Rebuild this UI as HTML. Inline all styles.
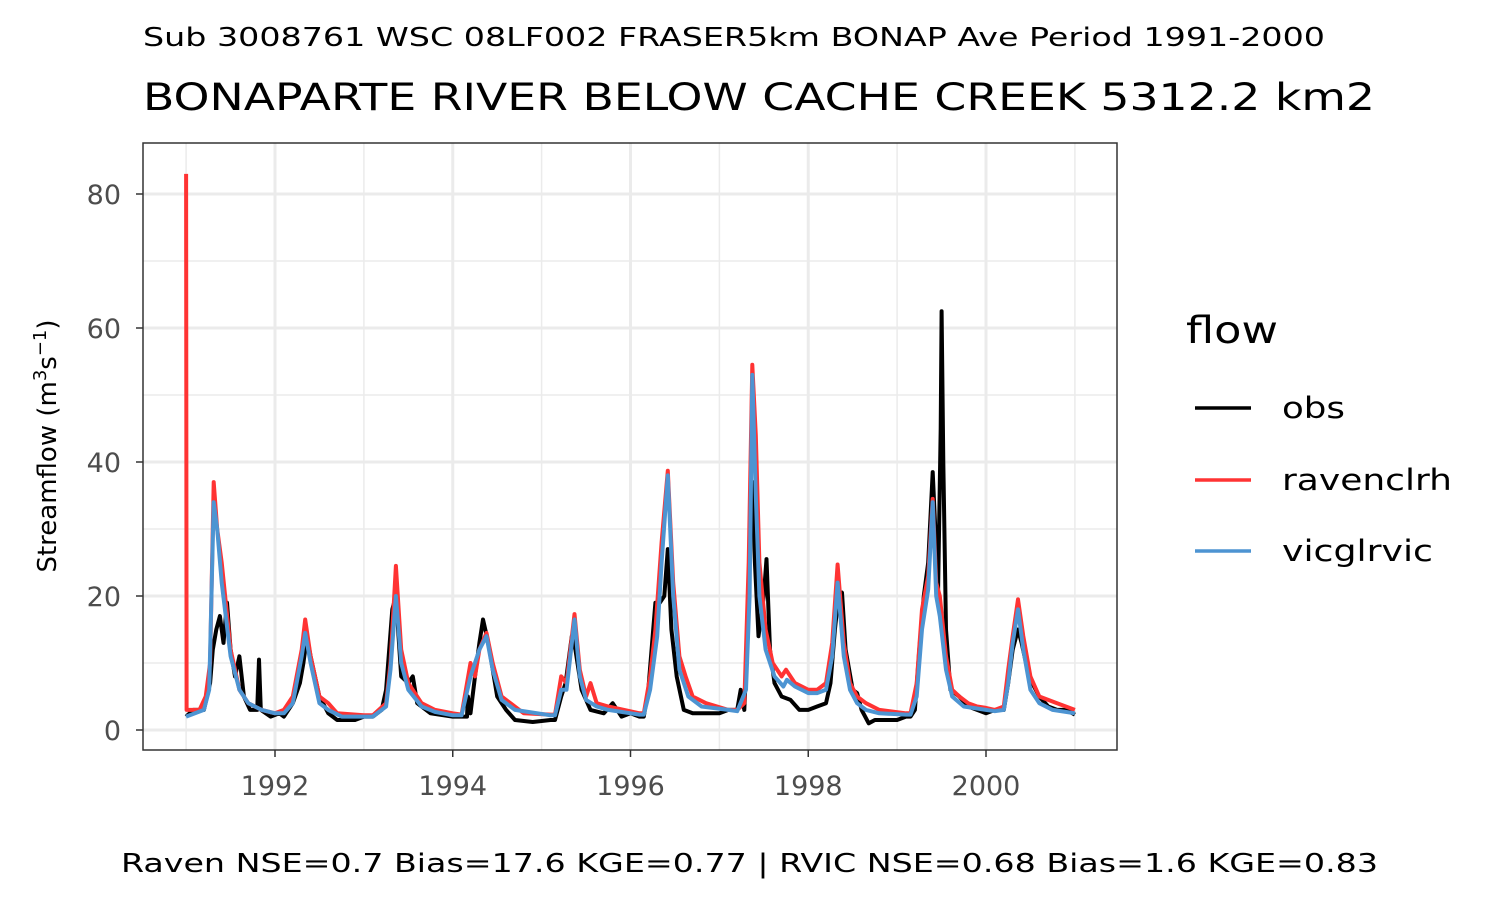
<!DOCTYPE html>
<html><head><meta charset="utf-8"><style>
body{margin:0;background:#fff;}
svg{display:block;font-family:"DejaVu Sans","Liberation Sans",sans-serif;}
</style></head><body>
<svg id="chart" width="1500" height="900" viewBox="0 0 1500 900" xmlns="http://www.w3.org/2000/svg">
<rect x="0" y="0" width="1500" height="900" fill="#fff"/>
<text x="143" y="46" font-size="26" textLength="1182" lengthAdjust="spacingAndGlyphs" fill="#000">Sub 3008761 WSC 08LF002 FRASER5km BONAP Ave Period 1991-2000</text>
<text x="143" y="110" font-size="37" textLength="1232" lengthAdjust="spacingAndGlyphs" fill="#000">BONAPARTE RIVER BELOW CACHE CREEK 5312.2 km2</text>
<g id="grid"></g>
<g id="series"></g>
<rect x="143" y="143" width="974" height="607" fill="none" stroke="#333" stroke-width="1.5"/>
<g id="axes"></g>
<text transform="translate(56,446) rotate(-90)" text-anchor="middle" font-size="26" fill="#000">Streamflow (m<tspan dy="-10" font-size="18">3</tspan><tspan dy="10">s</tspan><tspan dy="-10" font-size="18">−1</tspan><tspan dy="10">)</tspan></text>
<g>
<text x="1186" y="343" font-size="37" textLength="92" lengthAdjust="spacingAndGlyphs" fill="#000">flow</text>
<g><line x1="1195" y1="408" x2="1251" y2="408" stroke="#000" stroke-width="3.5"/><text x="1282" y="418" font-size="29" textLength="63" lengthAdjust="spacingAndGlyphs" fill="#000">obs</text></g>
<g><line x1="1195" y1="480" x2="1251" y2="480" stroke="#ff3333" stroke-width="3.5"/><text x="1282" y="490" font-size="29" textLength="170" lengthAdjust="spacingAndGlyphs" fill="#000">ravenclrh</text></g>
<g><line x1="1195" y1="551" x2="1251" y2="551" stroke="#4d94d2" stroke-width="3.5"/><text x="1282" y="561" font-size="29" textLength="151" lengthAdjust="spacingAndGlyphs" fill="#000">vicglrvic</text></g>
</g>
<text x="121" y="872" font-size="26" textLength="1257" lengthAdjust="spacingAndGlyphs" fill="#000">Raven NSE=0.7 Bias=17.6 KGE=0.77 | RVIC NSE=0.68 Bias=1.6 KGE=0.83</text>
</svg>
<script>
const yTicks = [0, 20, 40, 60, 80];
const yMinor = [10, 30, 50, 70];
const xTicks = [1992, 1994, 1996, 1998, 2000];
const xMinor = [1991, 1993, 1995, 1997, 1999, 2001];
const obsT = [1991.0,1991.08,1991.2,1991.27,1991.3,1991.34,1991.38,1991.42,1991.46,1991.5,1991.55,1991.6,1991.65,1991.72,1991.8,1991.82,1991.84,1991.95,1992.05,
1992.1,1992.2,1992.28,1992.32,1992.36,1992.4,1992.5,1992.6,1992.7,1992.9,1993.0,
1993.1,1993.2,1993.25,1993.32,1993.36,1993.42,1993.5,1993.55,1993.6,1993.75,1994.0,
1994.1,1994.16,1994.17,1994.2,1994.25,1994.3,1994.34,1994.4,1994.5,1994.6,1994.7,1994.9,1995.1,
1995.15,1995.22,1995.27,1995.34,1995.38,1995.45,1995.55,1995.7,1995.8,1995.9,1996.0,1996.1,
1996.15,1996.2,1996.28,1996.33,1996.38,1996.42,1996.46,1996.52,1996.6,1996.7,1996.8,1997.0,1997.1,
1997.2,1997.24,1997.28,1997.32,1997.34,1997.37,1997.4,1997.44,1997.5,1997.53,1997.57,1997.62,1997.7,1997.8,1997.9,1998.0,1998.1,
1998.2,1998.25,1998.3,1998.34,1998.38,1998.42,1998.5,1998.55,1998.6,1998.68,1998.75,1998.9,1999.0,1999.1,
1999.15,1999.2,1999.25,1999.3,1999.35,1999.4,1999.43,1999.46,1999.49,1999.5,1999.52,1999.55,1999.6,1999.7,1999.8,1999.9,2000.0,2000.1,
2000.2,2000.25,2000.3,2000.36,2000.4,2000.45,2000.52,2000.6,2000.7,2000.8,2000.9,2001.0];
const obsV = [2,3,3,7,12,15,17,13,19,12,8,11,5,3,3,10.5,3,2,2.5,
2,4,7,10,14,11,5,2.5,1.5,1.5,2,
2,3,6,18,20,8,7,8,4,2.5,2,
2,2,5,2.5,8,13,16.5,13,5,3,1.5,1.2,1.5,
1.5,5,7,14,12,6,3,2.5,4,2,2.5,2,
2,6,19,19,20,27,15,8,3,2.5,2.5,2.5,3,
3,6,3,15,28,37,25,14,20,25.5,12,7,5,4.5,3,3,3.5,
4,7,15,20,20.5,12,6,5.5,3,1,1.5,1.5,1.5,2,
2,3,12,20,25,38.5,30,20,45,62.5,40,15,6,5,3.5,3,2.5,3,
3,7,12,15,13,10,7,5,3.5,3,3,2.3];
const ravT = [1991.0,1991.005,1991.15,1991.22,1991.27,1991.31,1991.35,1991.4,1991.5,1991.6,1991.7,1991.85,1992.0,
1992.1,1992.2,1992.3,1992.34,1992.4,1992.5,1992.6,1992.7,1993.0,
1993.1,1993.25,1993.3,1993.36,1993.42,1993.5,1993.65,1993.8,1994.0,
1994.1,1994.2,1994.25,1994.3,1994.38,1994.45,1994.55,1994.65,1994.8,1995.1,
1995.15,1995.22,1995.28,1995.37,1995.43,1995.5,1995.55,1995.62,1995.75,1996.1,
1996.15,1996.22,1996.28,1996.35,1996.42,1996.48,1996.55,1996.62,1996.7,1996.85,1997.1,
1997.2,1997.28,1997.33,1997.37,1997.41,1997.45,1997.52,1997.6,1997.7,1997.75,1997.85,1998.0,1998.1,
1998.2,1998.27,1998.33,1998.4,1998.47,1998.55,1998.65,1998.8,1999.1,
1999.15,1999.22,1999.28,1999.35,1999.4,1999.44,1999.48,1999.55,1999.62,1999.7,1999.8,1999.9,2000.0,2000.1,
2000.2,2000.25,2000.3,2000.36,2000.42,2000.5,2000.6,2000.7,2000.8,2001.0];
const ravV = [83,3,3,5,10,37,30,25,12,6,4,3,2.5,
3,5,12,16.5,11,5,4,2.5,2.2,
2.2,4,10,24.5,12,7,4,3,2.5,
2.3,10,8,12,14.5,10,5,4,2.5,2.3,
2.3,8,7,17.3,9,5,7,4,3.5,2.5,
2.5,8,15,28,38.7,22,11,8,5,4,3,
3,4,25,54.5,44,25,15,10,8,9,7,6,6,
7,13,24.7,13,7,5,4,3,2.5,
2.5,7,18,23,34.5,22,20,11,6,5,4,3.5,3.3,3,
3.5,9,14,19.5,14,8,5,4.5,4,3];
const vicT = [1991.0,1991.2,1991.26,1991.31,1991.35,1991.4,1991.5,1991.6,1991.7,1991.85,1992.0,
1992.1,1992.2,1992.3,1992.34,1992.4,1992.5,1992.6,1992.75,1993.0,
1993.1,1993.25,1993.3,1993.36,1993.42,1993.5,1993.65,1993.8,1994.0,
1994.1,1994.2,1994.3,1994.38,1994.45,1994.55,1994.7,1995.1,
1995.15,1995.22,1995.28,1995.37,1995.43,1995.5,1995.62,1995.75,1996.1,
1996.15,1996.22,1996.3,1996.35,1996.42,1996.48,1996.55,1996.65,1996.8,1997.1,
1997.2,1997.3,1997.34,1997.37,1997.41,1997.45,1997.52,1997.62,1997.72,1997.76,1997.85,1998.0,1998.1,
1998.2,1998.27,1998.33,1998.4,1998.47,1998.55,1998.65,1998.8,1999.1,
1999.15,1999.22,1999.28,1999.35,1999.4,1999.44,1999.48,1999.55,1999.62,1999.75,2000.0,2000.1,
2000.2,2000.25,2000.3,2000.36,2000.42,2000.5,2000.6,2000.75,2001.0];
const vicV = [2,3,6,34,30,22,11,6,4,3,2.5,
2.5,4,11,14.5,10,4,3,2,2,
2,3.5,9,20,10,6,3.5,2.7,2.2,
2.2,8,12,14,9,4.5,3,2.2,
2.2,6,6,16.5,8,4.5,3.5,3,2.3,
2.3,6,14,25,38,20,9,5,3.5,3,
2.8,6,20,53,35,20,12,8,6.5,7.5,6.5,5.5,5.5,
6,11,22,11,6,4,3,2.5,2.3,
2.3,5,15,21,34,20,17,9,5,3.5,3,2.8,
3,7,13,18,12,6,4,3,2.5];

const NS = 'http://www.w3.org/2000/svg';
const X0 = 143, X1 = 1117, Y0 = 143, Y1 = 750;
function xs(t){ return 275 + (t - 1992) * 88.875; }
function ys(v){ return 730 - v * 6.7; }
function mk(tag, attrs, parent){ const e = document.createElementNS(NS, tag); for (const k in attrs) e.setAttribute(k, attrs[k]); parent.appendChild(e); return e; }
const grid = document.getElementById('grid');
const axes = document.getElementById('axes');
const series = document.getElementById('series');
yMinor.forEach(v => { const l = mk('line', {x1:X0, x2:X1, y1:ys(v), y2:ys(v), stroke:'#ebebeb', 'stroke-width':1.5}, grid);
  
   });
xMinor.forEach(t => { const l = mk('line', {x1:xs(t), x2:xs(t), y1:Y0, y2:Y1, stroke:'#ebebeb', 'stroke-width':1.5}, grid);
  
   });
yTicks.forEach(v => { const l = mk('line', {x1:X0, x2:X1, y1:ys(v), y2:ys(v), stroke:'#ebebeb', 'stroke-width':3}, grid);
  
  
  const tk = mk('line', {x1:X0-7, x2:X0, y1:ys(v), y2:ys(v), stroke:'#333', 'stroke-width':1.5}, axes);
  
  
  const tx = mk('text', {x:X0-22, y:ys(v)+10, 'text-anchor':'end', 'font-size':27, fill:'#4d4d4d'}, axes);
  tx.textContent = v;
  
   });
xTicks.forEach(t => { const l = mk('line', {x1:xs(t), x2:xs(t), y1:Y0, y2:Y1, stroke:'#ebebeb', 'stroke-width':3}, grid);
  
  
  const tk = mk('line', {x1:xs(t), x2:xs(t), y1:Y1, y2:Y1+7, stroke:'#333', 'stroke-width':1.5}, axes);
  
  
  const tx = mk('text', {x:xs(t), y:Y1+45, 'text-anchor':'middle', 'font-size':27, fill:'#4d4d4d'}, axes);
  tx.textContent = t;
  
   });
function drawLine(T, V, color, name){
  let d = '';
  T.forEach((t, i) => { d += (i ? 'L' : 'M') + xs(t).toFixed(1) + ',' + ys(V[i]).toFixed(1); });
  const p = mk('path', {d:d, fill:'none', stroke:color, 'stroke-width':4, 'stroke-linejoin':'round'}, series);
  
  
}
drawLine(obsT, obsV, '#000000', 'obs-line');
drawLine(ravT, ravV, '#ff3333', 'ravenclrh-line');
drawLine(vicT, vicV, '#4d94d2', 'vicglrvic-line');
</script>
</body></html>
